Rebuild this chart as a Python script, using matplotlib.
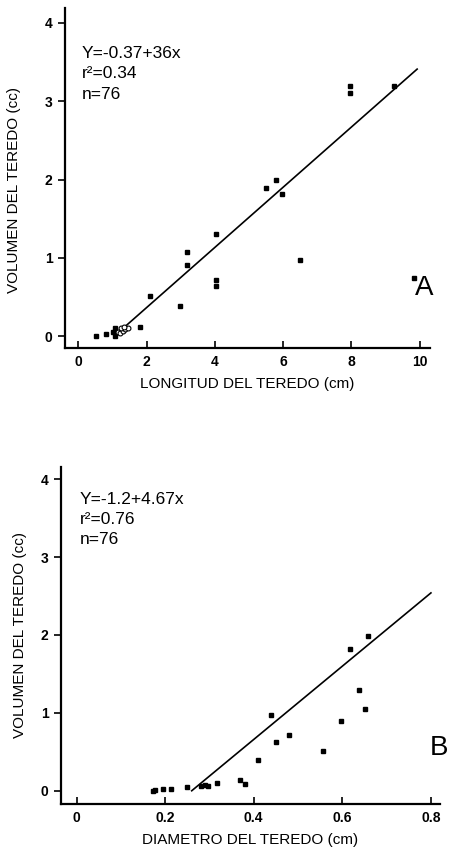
import matplotlib
matplotlib.use("Agg")
import matplotlib.pyplot as plt
from matplotlib import font_manager

names = {f.name for f in font_manager.fontManager.ttflist}
narrow = 'Liberation Sans Narrow' if 'Liberation Sans Narrow' in names else 'Liberation Sans'
plt.rcParams['font.family'] = [narrow, 'DejaVu Sans']

# Panel A data
a_x = [7.95, 7.97, 9.26, 5.51, 5.80, 5.98, 4.05, 3.20, 3.20, 4.03, 4.05, 6.51,
       9.85, 2.10, 2.98, 1.80, 0.51, 0.81, 1.07, 1.07, 1.02]
a_y = [3.19, 3.10, 3.20, 1.89, 1.99, 1.82, 1.30, 1.07, 0.91, 0.72, 0.64, 0.98,
       0.75, 0.51, 0.39, 0.12, 0.01, 0.03, 0.11, 0.01, 0.06]
a_open_x = [1.15, 1.22, 1.30, 1.38, 1.45, 1.25, 1.35]
a_open_y = [0.06, 0.04, 0.07, 0.09, 0.10, 0.10, 0.12]
a_fit_x = [1.41, 9.93]
a_fit_y = [0.14, 3.41]
a_text = "Y=-0.37+36x\nr²=0.34\nn=76"
a_xticks = [0, 2, 4, 6, 8, 10]
a_yticks = [0, 1, 2, 3, 4]

# Panel B data
b_x = [0.617, 0.637, 0.651, 0.598, 0.440, 0.450, 0.479, 0.557, 0.409, 0.369,
       0.380, 0.317, 0.281, 0.297, 0.290, 0.250, 0.196, 0.213, 0.173, 0.178, 0.657]
b_y = [1.82, 1.29, 1.05, 0.90, 0.97, 0.63, 0.72, 0.51, 0.39, 0.14,
       0.09, 0.10, 0.06, 0.06, 0.07, 0.05, 0.02, 0.02, 0.00, 0.01, 1.99]
b_fit_x = [0.26, 0.80]
b_fit_y = [0.0, 2.54]
b_text = "Y=-1.2+4.67x\nr²=0.76\nn=76"
b_xticks = [0, 0.2, 0.4, 0.6, 0.8]
b_xticklabels = ['0', '0.2', '0.4', '0.6', '0.8']
b_yticks = [0, 1, 2, 3, 4]

fig = plt.figure(figsize=(4.52, 8.49), dpi=100)

def style(ax):
    for s in ['top', 'right']:
        ax.spines[s].set_visible(False)
    for s in ['left', 'bottom']:
        ax.spines[s].set_linewidth(1.6)
    ax.tick_params(axis='x', direction='in', length=5, width=1.2, labelsize=10, pad=5)
    ax.tick_params(axis='y', direction='out', length=5, width=1.2, labelsize=10, pad=4)
    for lab in ax.get_xticklabels() + ax.get_yticklabels():
        lab.set_fontweight('bold')

axA = fig.add_axes([0.1438, 0.590, 0.807, 0.4006])
axA.plot(a_fit_x, a_fit_y, color='black', lw=1.2)
axA.plot(a_x, a_y, 's', color='black', ms=2.3)
axA.plot(a_open_x, a_open_y, 'o', mfc='white', mec='black', mew=0.8, ms=3.5)
axA.set_xlim(-0.39, 10.3)
axA.set_ylim(-0.15, 4.19)
axA.set_xticks(a_xticks)
axA.set_yticks(a_yticks)
axA.set_xlabel("LONGITUD DEL TEREDO (cm)", fontsize=11, labelpad=6)
axA.set_ylabel("VOLUMEN DEL TEREDO (cc)", fontsize=11)
axA.yaxis.set_label_coords(-0.12, 0.465)
axA.text(0.045, 0.888, a_text, transform=axA.transAxes, fontsize=12.5,
         va='top', ha='left', linespacing=1.45)
axA.text(0.986, 0.176, "A", transform=axA.transAxes, fontsize=20,
         va='center', ha='center')
style(axA)

axB = fig.add_axes([0.135, 0.053, 0.838, 0.3973])
axB.plot(b_fit_x, b_fit_y, color='black', lw=1.2)
axB.plot(b_x, b_y, 's', color='black', ms=2.3)
axB.set_xlim(-0.035, 0.82)
axB.set_ylim(-0.17, 4.16)
axB.set_xticks(b_xticks)
axB.set_xticklabels(b_xticklabels)
axB.set_yticks(b_yticks)
axB.set_xlabel("DIAMETRO DEL TEREDO (cm)", fontsize=11, labelpad=6)
axB.set_ylabel("VOLUMEN DEL TEREDO (cc)", fontsize=11, labelpad=10)
axB.text(0.05, 0.926, b_text, transform=axB.transAxes, fontsize=12.5,
         va='top', ha='left', linespacing=1.45)
axB.text(0.997, 0.166, "B", transform=axB.transAxes, fontsize=20,
         va='center', ha='center')
style(axB)

fig.savefig("out.png", dpi=100)
